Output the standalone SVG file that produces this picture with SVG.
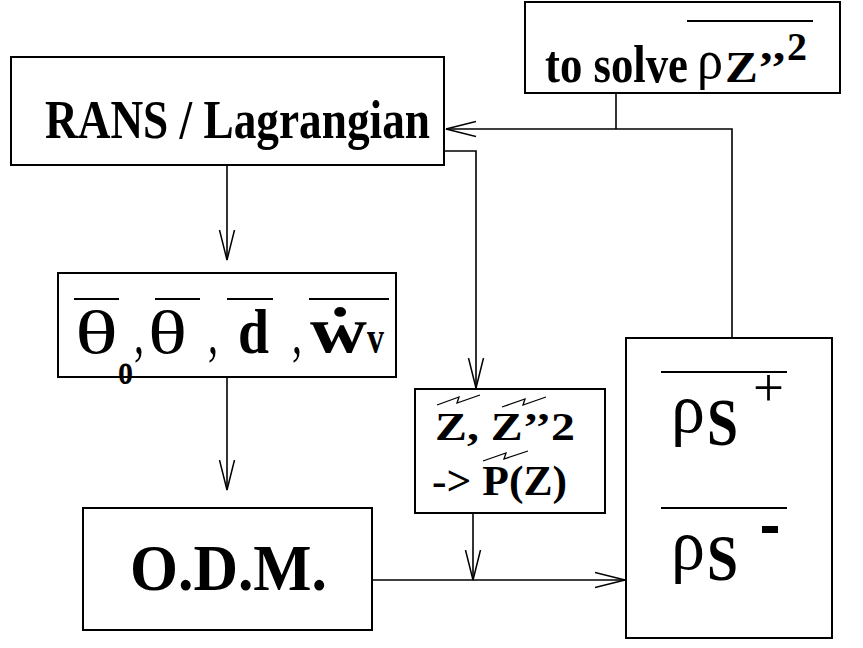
<svg xmlns="http://www.w3.org/2000/svg" width="863" height="648" viewBox="0 0 863 648">
<style>
.box{fill:#fff;stroke:#000;stroke-width:2}
.ln{fill:none;stroke:#000;stroke-width:1.6}
.bt{font-weight:bold;fill:#000}
.rt{font-weight:normal;fill:#000}
.ov{stroke:#000;stroke-width:2;fill:none}
.zz{stroke:#000;stroke-width:1.3;fill:none}
</style>
<defs>
<marker id="arr" markerUnits="userSpaceOnUse" markerWidth="32" markerHeight="18" viewBox="0 0 32 18" refX="30" refY="9" orient="auto">
<path d="M0,1.5 L30,9 L0,16.5" fill="none" stroke="#000" stroke-width="1.5"/>
</marker>
</defs>
<g id="connectors">
<path class="ln" d="M227,165 V260" marker-end="url(#arr)"/>
<path class="ln" d="M227,377 V490" marker-end="url(#arr)"/>
<path class="ln" d="M444,151 H476 V388" marker-end="url(#arr)"/>
<path class="ln" d="M473,513 V580" marker-end="url(#arr)"/>
<path class="ln" d="M372,580 H625" marker-end="url(#arr)"/>
<path class="ln" d="M732,338 V129 H446" marker-end="url(#arr)"/>
<path class="ln" d="M616,93 V129"/>
</g>
<g id="rans" font-family="'Liberation Serif', serif">
<rect class="box" x="11" y="57" width="433" height="108"/>
<text class="bt" x="45" y="138" font-size="55" textLength="385" lengthAdjust="spacingAndGlyphs">RANS / Lagrangian</text>
</g>
<g id="solve" font-family="'Liberation Serif', serif">
<rect class="box" x="525" y="2" width="315" height="91"/>
<text class="bt" x="545" y="82" font-size="52" textLength="143" lengthAdjust="spacingAndGlyphs">to solve</text>
<text class="rt" x="697" y="78" font-size="54" textLength="26" lengthAdjust="spacingAndGlyphs">ρ</text>
<text class="bt" x="725" y="82" font-size="44" textLength="62" lengthAdjust="spacingAndGlyphs">Z’’</text>
<text class="bt" x="787" y="60" font-size="41" textLength="20" lengthAdjust="spacingAndGlyphs">2</text>
<line class="ov" x1="687" y1="21" x2="813" y2="21"/>
</g>
<g id="means" font-family="'Liberation Serif', serif">
<rect class="box" x="58" y="273" width="338" height="104"/>
<text class="rt" x="75" y="353" font-size="62" textLength="43" lengthAdjust="spacingAndGlyphs">θ</text>
<text class="bt" x="118" y="384" font-size="45" textLength="15" lengthAdjust="spacingAndGlyphs">o</text>
<text class="rt" x="134" y="353" font-size="62" textLength="10" lengthAdjust="spacingAndGlyphs">,</text>
<text class="rt" x="148" y="353" font-size="62" textLength="39" lengthAdjust="spacingAndGlyphs">θ</text>
<text class="rt" x="208" y="353" font-size="62" textLength="10" lengthAdjust="spacingAndGlyphs">,</text>
<text class="bt" x="238" y="353" font-size="63" textLength="31" lengthAdjust="spacingAndGlyphs">d</text>
<text class="rt" x="292" y="353" font-size="62" textLength="10" lengthAdjust="spacingAndGlyphs">,</text>
<text class="bt" x="310" y="353" font-size="65" textLength="57" lengthAdjust="spacingAndGlyphs">ẇ</text>
<text class="bt" x="367" y="353" font-size="46" textLength="17" lengthAdjust="spacingAndGlyphs">v</text>
<line class="ov" x1="74" y1="299" x2="119" y2="299"/>
<line class="ov" x1="155" y1="299" x2="200" y2="299"/>
<line class="ov" x1="227" y1="299" x2="273" y2="299"/>
<line class="ov" x1="309" y1="299" x2="389" y2="299"/>
</g>
<g id="pdf" font-family="'Liberation Serif', serif">
<rect class="box" x="415" y="389" width="190" height="124"/>
<text class="bt" x="435" y="440" font-size="41" textLength="140" lengthAdjust="spacingAndGlyphs">Z, Z’’2</text>
<text class="bt" x="432" y="495" font-size="42" textLength="135" lengthAdjust="spacingAndGlyphs">-&gt; P(Z)</text>
<polyline class="zz" points="437,405 459,397 457,403 480,395"/>
<polyline class="zz" points="502,407 525,399 523,405 546,397"/>
<polyline class="zz" points="483,461 506,453 504,459 528,451"/>
</g>
<g id="odm" font-family="'Liberation Serif', serif">
<rect class="box" x="83" y="508" width="289" height="122"/>
<text class="bt" x="130" y="590" font-size="65" textLength="197" lengthAdjust="spacingAndGlyphs">O.D.M.</text>
</g>
<g id="rhos" font-family="'Liberation Serif', serif">
<rect class="box" x="626" y="338" width="206" height="300"/>
<line class="ov" x1="661" y1="372" x2="787" y2="372"/>
<text class="rt" x="671" y="432" font-size="70" textLength="34" lengthAdjust="spacingAndGlyphs">ρ</text>
<text class="bt" x="707" y="445" font-size="68" textLength="31" lengthAdjust="spacingAndGlyphs">S</text>
<text class="rt" x="753" y="406" font-size="55" textLength="31" lengthAdjust="spacingAndGlyphs">+</text>
<line class="ov" x1="661" y1="508" x2="787" y2="508"/>
<text class="rt" x="671" y="569" font-size="72" textLength="34" lengthAdjust="spacingAndGlyphs">ρ</text>
<text class="bt" x="707" y="580" font-size="65" textLength="31" lengthAdjust="spacingAndGlyphs">S</text>
<rect x="762" y="526" width="16" height="7" fill="#000"/>
</g>
</svg>
